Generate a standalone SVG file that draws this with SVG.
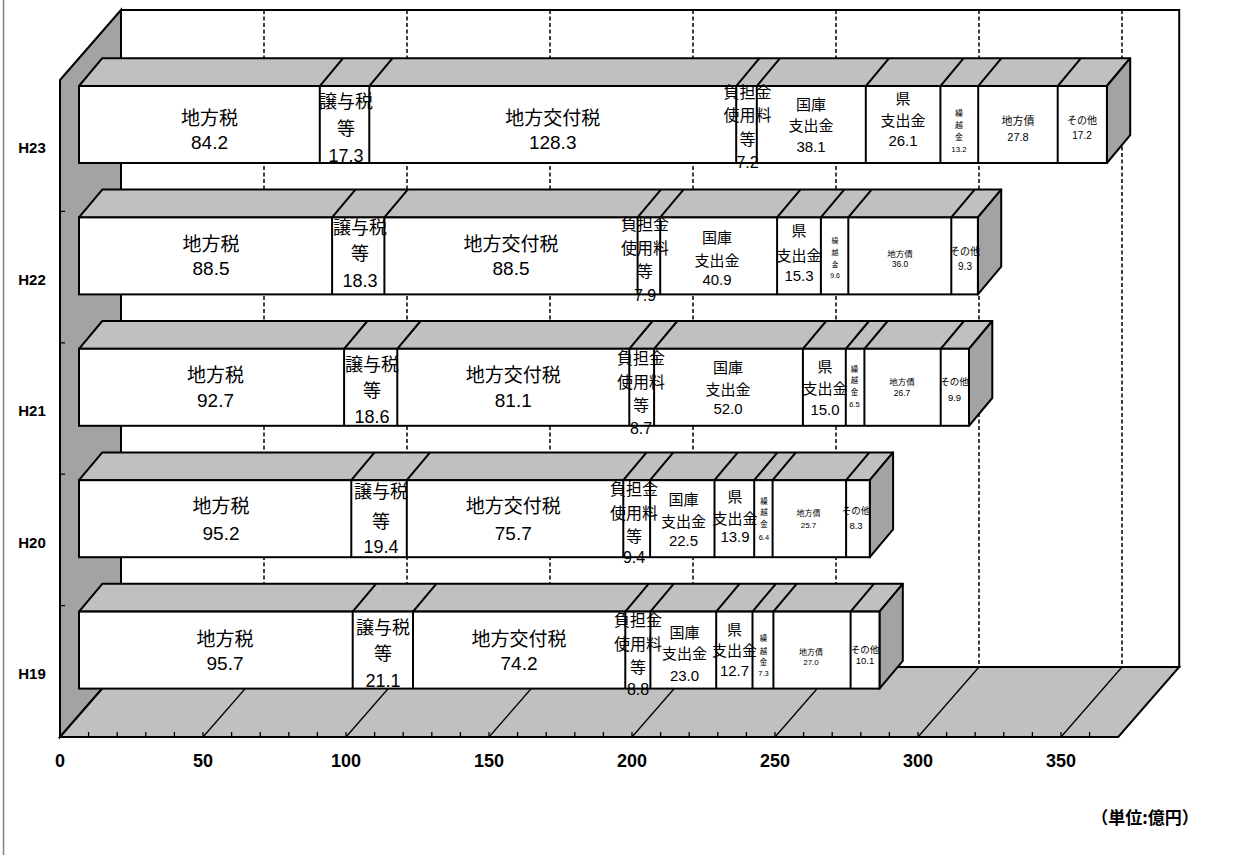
<svg xmlns="http://www.w3.org/2000/svg" width="1239" height="855" viewBox="0 0 1239 855">
<style>
.wall{fill:#fff;stroke:#000;stroke-width:2}
.side{fill:#a3a3a3;stroke:#000;stroke-width:2}
.floor{fill:#c0c0c0;stroke:#000;stroke-width:2}
.grid{stroke:#000;stroke-width:1.5;stroke-dasharray:4 2.5;fill:none}
.fl{stroke:#000;stroke-width:1.3;fill:none}
.top{fill:#c0c0c0;stroke:#000;stroke-width:2;stroke-linejoin:round}
.rs{fill:#a3a3a3;stroke:#000;stroke-width:2;stroke-linejoin:round}
.fr{fill:#fff;stroke:#000;stroke-width:2}
.dv{stroke:#000;stroke-width:2;fill:none}
text{font-family:"Noto Sans CJK JP","Noto Sans",sans-serif;fill:#000;text-anchor:middle}
.n{font-family:"Liberation Sans",Arial,sans-serif}
.xl{font-size:19px}
.l{font-size:18px}
.f{font-size:16px}
.m{font-size:15px}
.ax{font-family:"Liberation Sans",Arial,sans-serif;font-weight:bold;font-size:18px}
.cat{font-family:"Liberation Sans",Arial,sans-serif;font-weight:bold;font-size:15px}
.unit{font-weight:bold;font-size:17px}
</style>
<rect width="1239" height="855" fill="#fff"/>
<line x1="3.5" y1="0" x2="3.5" y2="855" stroke="#808080" stroke-width="1.5"/>
<g id="plot">
<rect class="wall" x="121" y="10" width="1058.2" height="657"/>
<path class="grid" d="M264 10V667M407 10V667M550 10V667M693 10V667M836 10V667M979 10V667M1122 10V667"/>
<polygon class="side" points="60,80 121,10 121,667 60,737"/>
<polygon class="floor" points="60,737 1118.2,737 1179.2,667 121,667"/>
<path class="fl" d="M203 737L264 667M346 737L407 667M489 737L550 667M632 737L693 667M775 737L836 667M918 737L979 667M1061 737L1122 667"/>
<path class="fl" d="M60 211.4h5M60 342.8h5M60 474.2h5M60 605.6h5M88.6 737v-5M117.2 737v-5M145.8 737v-5M174.4 737v-5M203 737v-5M231.6 737v-5M260.2 737v-5M288.8 737v-5M317.4 737v-5M346 737v-5M374.6 737v-5M403.2 737v-5M431.8 737v-5M460.4 737v-5M489 737v-5M517.6 737v-5M546.2 737v-5M574.8 737v-5M603.4 737v-5M632 737v-5M660.6 737v-5M689.2 737v-5M717.8 737v-5M746.4 737v-5M775 737v-5M803.6 737v-5M832.2 737v-5M860.8 737v-5M889.4 737v-5M918 737v-5M946.6 737v-5M975.2 737v-5M1003.8 737v-5M1032.4 737v-5M1061 737v-5M1089.6 737v-5"/>
</g>
<g id="connectors"></g>
<g id="bar-H23">
<polygon class="top" points="79,86 1106.9,86 1130.2,58.2 102.3,58.2"/>
<polygon class="rs" points="1106.9,86 1130.2,58.2 1130.2,135.2 1106.9,163"/>
<rect class="fr" x="79" y="86" width="1027.9" height="77"/>
<path class="dv" d="M319.8 163V86L343.1 58.2M369.3 163V86L392.6 58.2M736.2 163V86L759.5 58.2M756.8 163V86L780.1 58.2M865.8 163V86L889.1 58.2M940.4 163V86L963.7 58.2M978.2 163V86L1001.5 58.2M1057.7 163V86L1081 58.2"/>
</g>
<g id="bar-H22">
<polygon class="top" points="79,217.4 977.9,217.4 1001.2,189.6 102.3,189.6"/>
<polygon class="rs" points="977.9,217.4 1001.2,189.6 1001.2,266.6 977.9,294.4"/>
<rect class="fr" x="79" y="217.4" width="898.9" height="77"/>
<path class="dv" d="M332.1 294.4V217.4L355.4 189.6M384.4 294.4V217.4L407.7 189.6M637.6 294.4V217.4L660.9 189.6M660.2 294.4V217.4L683.5 189.6M777.1 294.4V217.4L800.4 189.6M820.9 294.4V217.4L844.2 189.6M848.3 294.4V217.4L871.6 189.6M951.3 294.4V217.4L974.6 189.6"/>
</g>
<g id="bar-H21">
<polygon class="top" points="79,348.8 969,348.8 992.3,321 102.3,321"/>
<polygon class="rs" points="969,348.8 992.3,321 992.3,398 969,425.8"/>
<rect class="fr" x="79" y="348.8" width="890" height="77"/>
<path class="dv" d="M344.1 425.8V348.8L367.4 321M397.3 425.8V348.8L420.6 321M629.3 425.8V348.8L652.6 321M654.1 425.8V348.8L677.4 321M802.9 425.8V348.8L826.2 321M845.8 425.8V348.8L869.1 321M864.4 425.8V348.8L887.7 321M940.7 425.8V348.8L964 321"/>
</g>
<g id="bar-H20">
<polygon class="top" points="79,480.2 869.8,480.2 893.1,452.4 102.3,452.4"/>
<polygon class="rs" points="869.8,480.2 893.1,452.4 893.1,529.4 869.8,557.2"/>
<rect class="fr" x="79" y="480.2" width="790.8" height="77"/>
<path class="dv" d="M351.3 557.2V480.2L374.6 452.4M406.8 557.2V480.2L430.1 452.4M623.3 557.2V480.2L646.6 452.4M650.1 557.2V480.2L673.4 452.4M714.5 557.2V480.2L737.8 452.4M754.2 557.2V480.2L777.5 452.4M772.6 557.2V480.2L795.9 452.4M846.1 557.2V480.2L869.4 452.4"/>
</g>
<g id="bar-H19">
<polygon class="top" points="79,611.6 879.5,611.6 902.8,583.8 102.3,583.8"/>
<polygon class="rs" points="879.5,611.6 902.8,583.8 902.8,660.8 879.5,688.6"/>
<rect class="fr" x="79" y="611.6" width="800.5" height="77"/>
<path class="dv" d="M352.7 688.6V611.6L376 583.8M413 688.6V611.6L436.3 583.8M625.3 688.6V611.6L648.6 583.8M650.4 688.6V611.6L673.7 583.8M716.2 688.6V611.6L739.5 583.8M752.5 688.6V611.6L775.8 583.8M773.4 688.6V611.6L796.7 583.8M850.6 688.6V611.6L873.9 583.8"/>
</g>
<g id="labels-H23">
<text class="xl" x="209.5" y="125">地方税<tspan class="n" x="209.5" y="149.4">84.2</tspan></text>
<text class="l" x="346" y="108.4">譲与税<tspan x="346" y="135">等</tspan><tspan class="n" x="346" y="161.7">17.3</tspan></text>
<text class="xl" x="552.7" y="125">地方交付税<tspan class="n" x="552.7" y="149.4">128.3</tspan></text>
<text class="f" x="747.5" y="97.9">負担金<tspan x="747.5" y="121.4">使用料</tspan><tspan x="747.5" y="144.9">等</tspan><tspan class="n" x="747.5" y="167.8">7.2</tspan></text>
<text class="m" x="811" y="109.6">国庫<tspan x="811" y="131.4">支出金</tspan><tspan class="n" x="811" y="151.6">38.1</tspan></text>
<text class="m" x="903" y="104.2">県<tspan x="903" y="126">支出金</tspan><tspan class="n" x="903" y="145.6">26.1</tspan></text>
<text font-size="8" x="959" y="115.7">繰<tspan x="959" y="128">越</tspan><tspan x="959" y="140.3">金</tspan><tspan class="n" x="959" y="152.3">13.2</tspan></text>
<text font-size="11" x="1018" y="125">地方債<tspan class="n" x="1018" y="140.7">27.8</tspan></text>
<text font-size="10" x="1082" y="123.7">その他<tspan class="n" x="1082" y="138.7">17.2</tspan></text>
</g>
<g id="labels-H22">
<text class="xl" x="211" y="251">地方税<tspan class="n" x="211" y="275">88.5</tspan></text>
<text class="l" x="360" y="233.5">譲与税<tspan x="360" y="260">等</tspan><tspan class="n" x="360" y="287">18.3</tspan></text>
<text class="xl" x="511" y="251">地方交付税<tspan class="n" x="511" y="275">88.5</tspan></text>
<text class="f" x="645" y="230.3">負担金<tspan x="645" y="253.8">使用料</tspan><tspan x="645" y="277.3">等</tspan><tspan class="n" x="645" y="300.8">7.9</tspan></text>
<text class="m" x="717" y="243.3">国庫<tspan x="717" y="265.6">支出金</tspan><tspan class="n" x="717" y="285">40.9</tspan></text>
<text class="m" x="799" y="235.6">県<tspan x="799" y="261.3">支出金</tspan><tspan class="n" x="799" y="281.3">15.3</tspan></text>
<text font-size="7" x="835" y="243.3">繰<tspan x="835" y="255.3">越</tspan><tspan x="835" y="266.6">金</tspan><tspan class="n" x="835" y="278.3">9.6</tspan></text>
<text font-size="8.5" x="900" y="256.8">地方債<tspan class="n" x="900" y="267">36.0</tspan></text>
<text font-size="10" x="965" y="255.4">その他<tspan class="n" x="965" y="269.7">9.3</tspan></text>
</g>
<g id="labels-H21">
<text class="xl" x="215.5" y="382.4">地方税<tspan class="n" x="215.5" y="406.7">92.7</tspan></text>
<text class="l" x="372" y="371">譲与税<tspan x="372" y="397">等</tspan><tspan class="n" x="372" y="423.4">18.6</tspan></text>
<text class="xl" x="513.3" y="382.4">地方交付税<tspan class="n" x="513.3" y="406.7">81.1</tspan></text>
<text class="f" x="641" y="364.4">負担金<tspan x="641" y="387.9">使用料</tspan><tspan x="641" y="411.4">等</tspan><tspan class="n" x="641" y="433.8">8.7</tspan></text>
<text class="m" x="728" y="372.9">国庫<tspan x="728" y="394.7">支出金</tspan><tspan class="n" x="728" y="413.9">52.0</tspan></text>
<text class="m" x="825" y="372.1">県<tspan x="825" y="393.9">支出金</tspan><tspan class="n" x="825" y="414.6">15.0</tspan></text>
<text font-size="7.5" x="854.5" y="371.8">繰<tspan x="854.5" y="383.3">越</tspan><tspan x="854.5" y="394.8">金</tspan><tspan class="n" x="854.5" y="406.8">6.5</tspan></text>
<text font-size="8.5" x="902" y="384.5">地方債<tspan class="n" x="902" y="395.9">26.7</tspan></text>
<text font-size="9.5" x="954.5" y="385.2">その他<tspan class="n" x="954.5" y="400.8">9.9</tspan></text>
</g>
<g id="labels-H20">
<text class="xl" x="221" y="513.4">地方税<tspan class="n" x="221" y="540">95.2</tspan></text>
<text class="l" x="381" y="498.4">譲与税<tspan x="381" y="528.4">等</tspan><tspan class="n" x="381" y="552.7">19.4</tspan></text>
<text class="xl" x="513.3" y="513.4">地方交付税<tspan class="n" x="513.3" y="540">75.7</tspan></text>
<text class="f" x="634" y="495.4">負担金<tspan x="634" y="518.9">使用料</tspan><tspan x="634" y="542.4">等</tspan><tspan class="n" x="634" y="563.3">9.4</tspan></text>
<text class="m" x="683.5" y="505">国庫<tspan x="683.5" y="526.8">支出金</tspan><tspan class="n" x="683.5" y="545.6">22.5</tspan></text>
<text class="m" x="735" y="502.1">県<tspan x="735" y="523.9">支出金</tspan><tspan class="n" x="735" y="542.3">13.9</tspan></text>
<text font-size="7.5" x="764" y="503.5">繰<tspan x="764" y="514.5">越</tspan><tspan x="764" y="526.8">金</tspan><tspan class="n" x="764" y="539.5">6.4</tspan></text>
<text font-size="8" x="808.5" y="516.3">地方債<tspan class="n" x="808.5" y="528">25.7</tspan></text>
<text font-size="9.5" x="856" y="514.2">その他<tspan class="n" x="856" y="528.5">8.3</tspan></text>
</g>
<g id="labels-H19">
<text class="xl" x="225" y="646.3">地方税<tspan class="n" x="225" y="670.3">95.7</tspan></text>
<text class="l" x="383" y="633.5">譲与税<tspan x="383" y="659.5">等</tspan><tspan class="n" x="383" y="687.3">21.1</tspan></text>
<text class="xl" x="519" y="646.3">地方交付税<tspan class="n" x="519" y="670.3">74.2</tspan></text>
<text class="f" x="638" y="626.4">負担金<tspan x="638" y="649.9">使用料</tspan><tspan x="638" y="673.4">等</tspan><tspan class="n" x="638" y="695.3">8.8</tspan></text>
<text class="m" x="684.5" y="637.5">国庫<tspan x="684.5" y="659.3">支出金</tspan><tspan class="n" x="684.5" y="680.6">23.0</tspan></text>
<text class="m" x="734.5" y="634.5">県<tspan x="734.5" y="656.3">支出金</tspan><tspan class="n" x="734.5" y="675.6">12.7</tspan></text>
<text font-size="7.5" x="763.5" y="641.1">繰<tspan x="763.5" y="653.5">越</tspan><tspan x="763.5" y="665.1">金</tspan><tspan class="n" x="763.5" y="676.1">7.3</tspan></text>
<text font-size="8" x="811" y="655.2">地方債<tspan class="n" x="811" y="664.8">27.0</tspan></text>
<text font-size="9.5" x="865" y="652.8">その他<tspan class="n" x="865" y="664.2">10.1</tspan></text>
</g>
<g id="category-axis">
<text class="cat" x="32" y="153.4">H23</text>
<text class="cat" x="32" y="285.4">H22</text>
<text class="cat" x="32" y="416.4">H21</text>
<text class="cat" x="32" y="548.4">H20</text>
<text class="cat" x="32" y="679.4">H19</text>
</g>
<g id="value-axis">
<text class="ax" x="60" y="767">0</text>
<text class="ax" x="203" y="767">50</text>
<text class="ax" x="346" y="767">100</text>
<text class="ax" x="489" y="767">150</text>
<text class="ax" x="632" y="767">200</text>
<text class="ax" x="775" y="767">250</text>
<text class="ax" x="918" y="767">300</text>
<text class="ax" x="1061" y="767">350</text>
</g>
<text class="unit" x="1145" y="824">（単位:億円）</text>
</svg>
